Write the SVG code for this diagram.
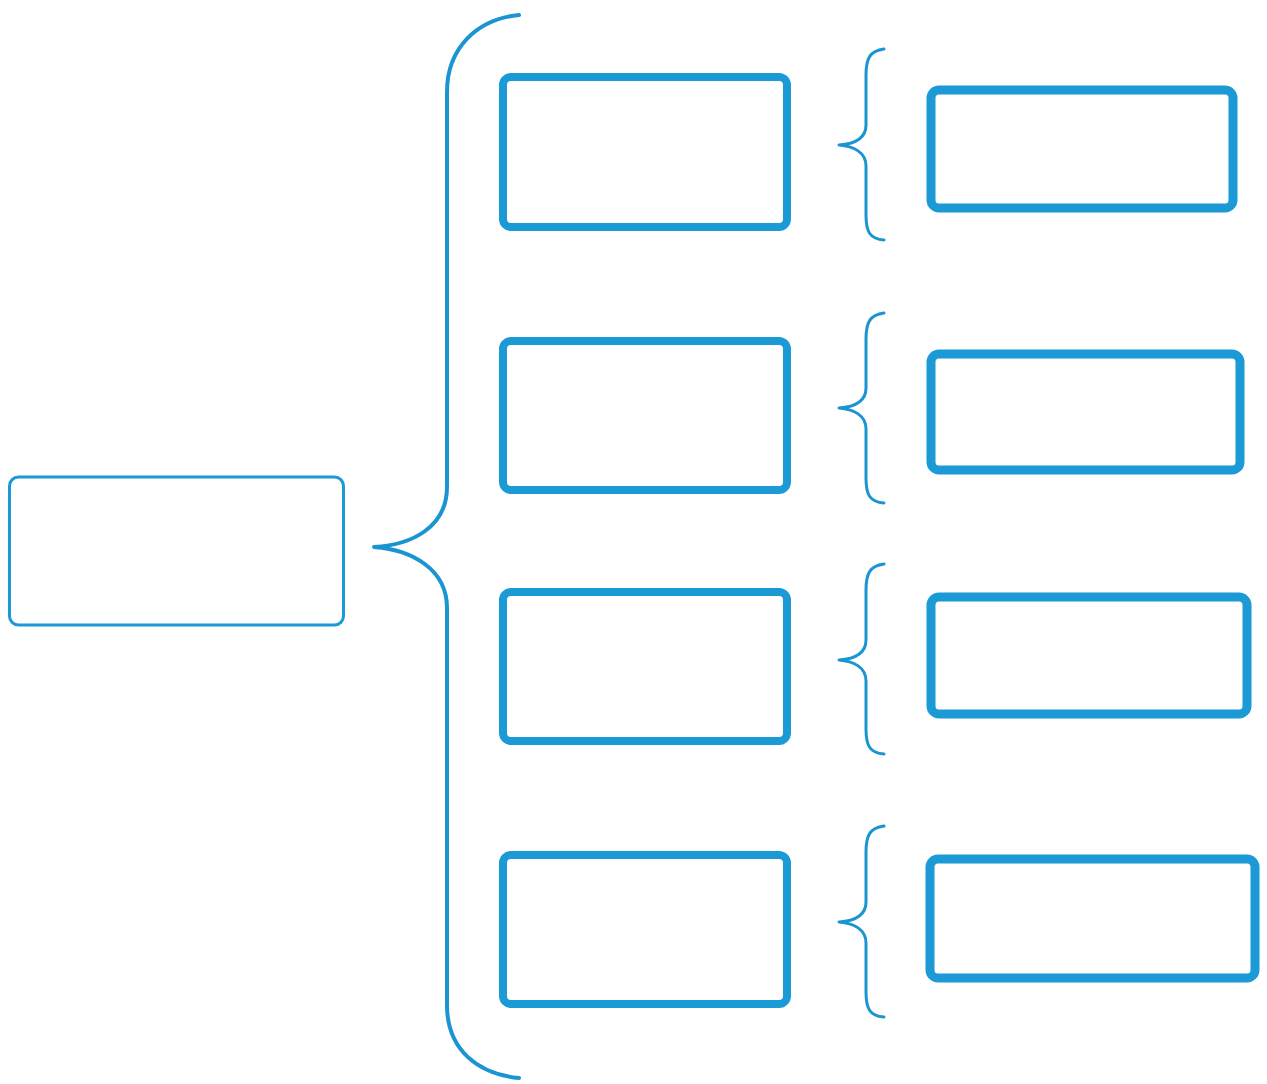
<svg xmlns="http://www.w3.org/2000/svg" width="1267" height="1084" viewBox="0 0 1267 1084">
<style>
.b{fill:#fff;stroke:#1b9ad6}
.br{fill:none;stroke:#1b95d2;stroke-linecap:round;stroke-linejoin:round}
</style>
<rect width="1267" height="1084" fill="#fff"/>
<g id="connectors">
<path class="br" stroke-width="4" d="M519,15 C478,19 447,47 447,92 L447,487 C447,527 412,545 374,547 C412,550 447,569 447,608 L447,1005 C447,1050 478,1074 519,1078"/>
<path class="br" stroke-width="3" d="M884,49 C870,51 866,58 866,75 L866,125 C866,139 853,144 839,145 C853,146 866,152 866,166 L866,215 C866,232 870,239 884,240"/>
<path class="br" stroke-width="3" d="M884,313 C870,315 866,322 866,339 L866,388 C866,402 853,407 839,408 C853,409 866,415 866,429 L866,478 C866,495 870,502 884,503"/>
<path class="br" stroke-width="3" d="M884,564 C870,566 866,573 866,590 L866,640 C866,654 853,659 839,660 C853,661 866,667 866,681 L866,729 C866,746 870,753 884,754"/>
<path class="br" stroke-width="3" d="M884,826 C870,828 866,835 866,852 L866,902 C866,916 853,921 839,922 C853,923 866,929 866,943 L866,992 C866,1009 870,1016 884,1017"/>
</g>
<g id="root"><rect class="b" x="9.5" y="477" width="334" height="148" rx="9" stroke-width="3"/></g>
<g id="m1"><rect class="b" x="503" y="77" width="284" height="150" rx="8" stroke-width="8"/></g>
<g id="m2"><rect class="b" x="503" y="341" width="284" height="149" rx="8" stroke-width="8"/></g>
<g id="m3"><rect class="b" x="503" y="592" width="284" height="149" rx="8" stroke-width="8"/></g>
<g id="m4"><rect class="b" x="503" y="855" width="284" height="149" rx="8" stroke-width="8"/></g>
<g id="r1"><rect class="b" x="931" y="90" width="302" height="118" rx="8" stroke-width="9"/></g>
<g id="r2"><rect class="b" x="931" y="354" width="309" height="116" rx="8" stroke-width="9"/></g>
<g id="r3"><rect class="b" x="931" y="597" width="316" height="117" rx="8" stroke-width="9"/></g>
<g id="r4"><rect class="b" x="930" y="859" width="325" height="119" rx="8" stroke-width="9"/></g>
</svg>
